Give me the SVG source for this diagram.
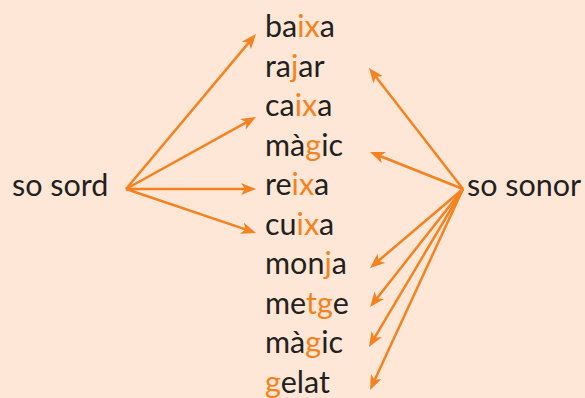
<svg xmlns="http://www.w3.org/2000/svg" width="585" height="398" viewBox="0 0 585 398">
<defs>
<style>
text{font-family:Lato,"Open Sans","Liberation Sans",sans-serif;font-size:30.5px;fill:#231f20}
.h{fill:#f58220}
.c line{stroke:#f58220;stroke-width:2.5;marker-end:url(#ah)}
</style>
<marker id="ah" markerUnits="userSpaceOnUse" markerWidth="15" markerHeight="12" refX="7" refY="6" orient="auto">
<path d="M0,0 L15,6 L0,12 L4,6 Z" fill="#f58220"/>
</marker>
</defs>
<rect width="585" height="398" fill="#fee7d6"/>
<g class="c" id="connectors">
<line x1="126" y1="189" x2="250.9" y2="40.1"/>
<line x1="126" y1="189" x2="249" y2="120.9"/>
<line x1="126" y1="189" x2="248" y2="189"/>
<line x1="126" y1="189" x2="248.4" y2="230.4"/>
<line x1="463" y1="189" x2="373.9" y2="74.3"/>
<line x1="463" y1="189" x2="377.4" y2="155"/>
<line x1="463" y1="189" x2="376.1" y2="262.8"/>
<line x1="463" y1="189" x2="375" y2="300.7"/>
<line x1="463" y1="189" x2="373.1" y2="340.1"/>
<line x1="463" y1="189" x2="373.4" y2="382.7"/>
</g>
<g id="so-sord"><text x="12" y="196">so sord</text></g>
<g id="so-sonor"><text x="467" y="196">so sonor</text></g>
<g id="w1"><text x="265" y="37">ba<tspan class="h">ix</tspan>a</text></g>
<g id="w2"><text x="265" y="76.5">ra<tspan class="h">j</tspan>ar</text></g>
<g id="w3"><text x="265" y="116">ca<tspan class="h">ix</tspan>a</text></g>
<g id="w4"><text x="265" y="155.5">mà<tspan class="h">g</tspan>ic</text></g>
<g id="w5"><text x="265" y="195">re<tspan class="h">ix</tspan>a</text></g>
<g id="w6"><text x="265" y="234.5">cu<tspan class="h">ix</tspan>a</text></g>
<g id="w7"><text x="265" y="274">mon<tspan class="h">j</tspan>a</text></g>
<g id="w8"><text x="265" y="313.5">me<tspan class="h">tg</tspan>e</text></g>
<g id="w9"><text x="265" y="353">mà<tspan class="h">g</tspan>ic</text></g>
<g id="w10"><text x="265" y="392.5"><tspan class="h">g</tspan>elat</text></g>
</svg>
